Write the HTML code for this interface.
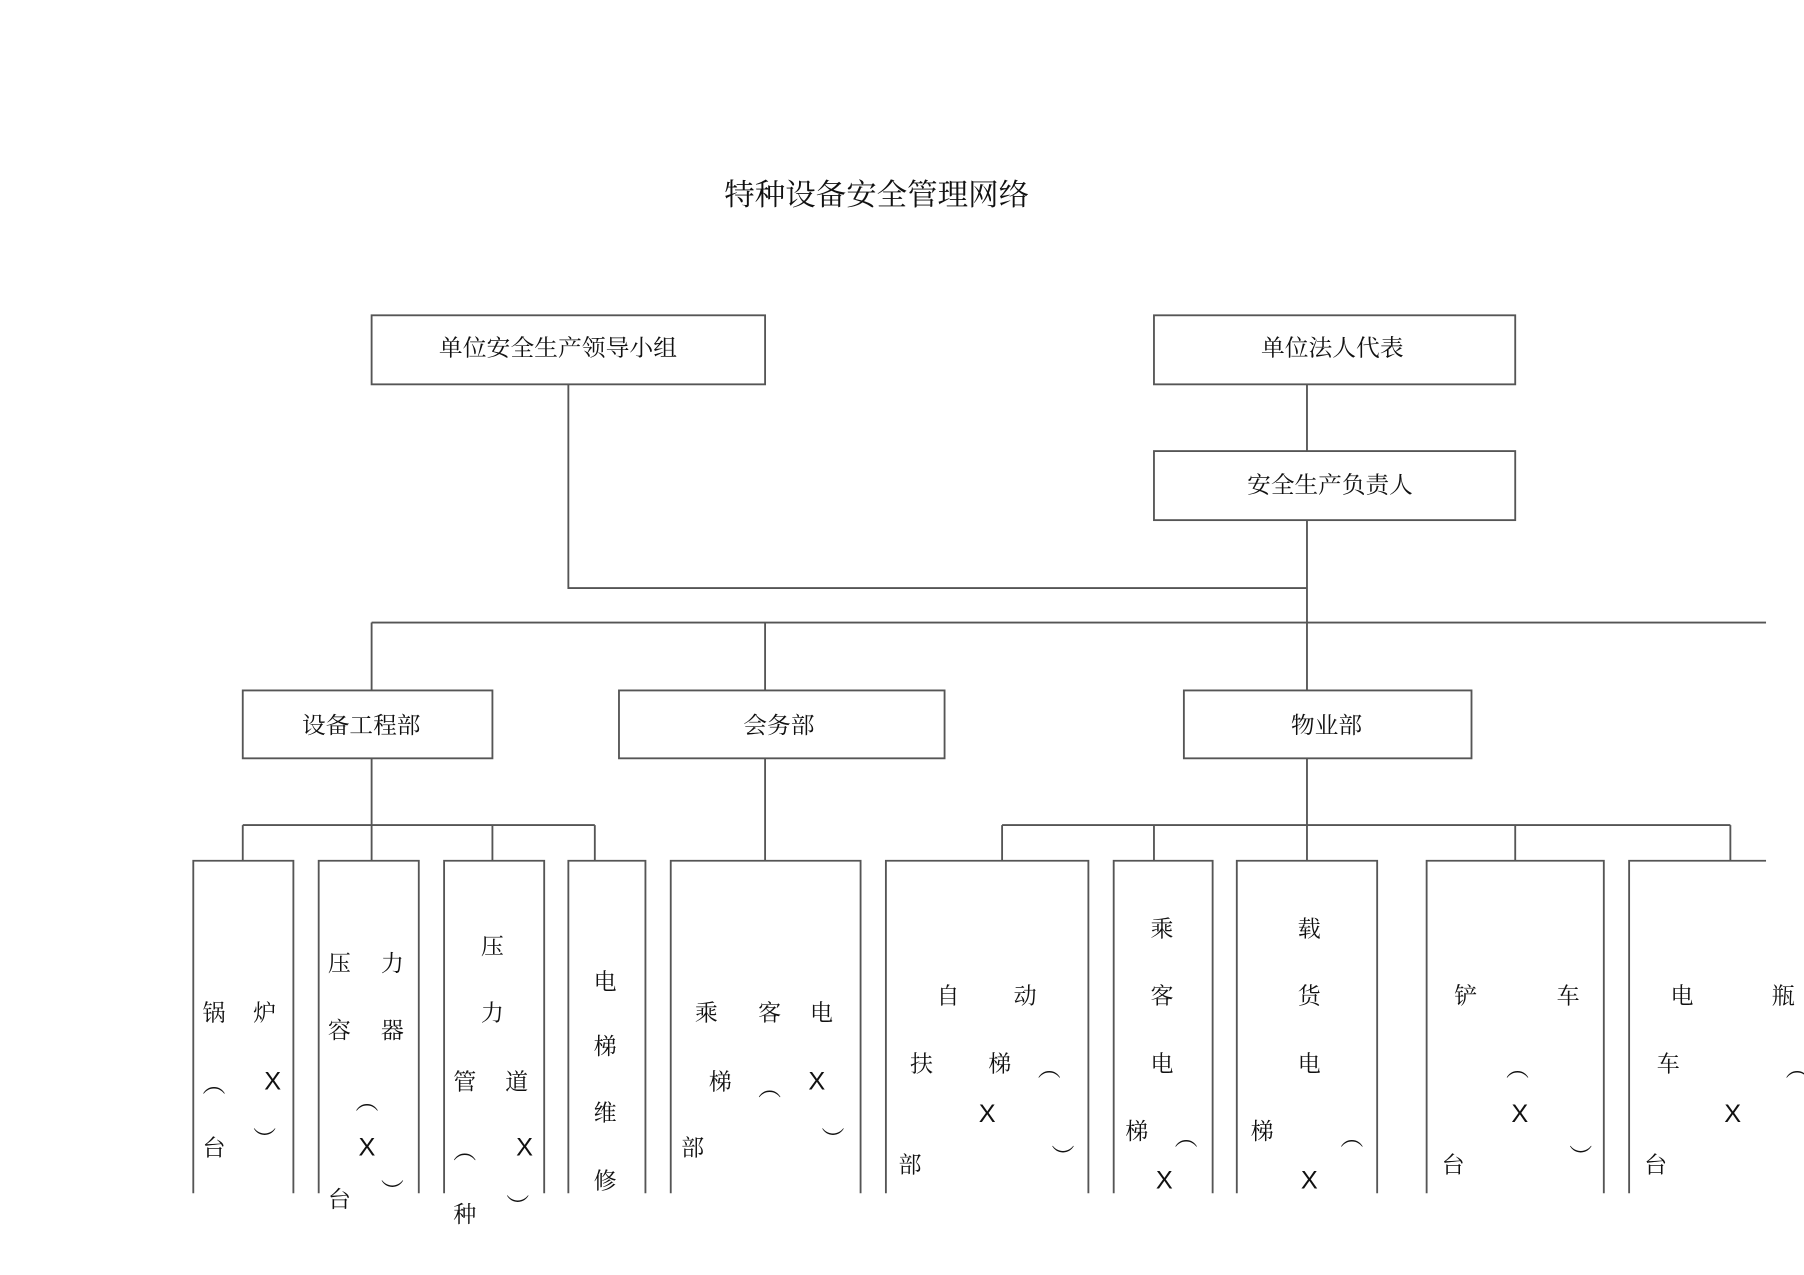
<!DOCTYPE html>
<html><head><meta charset="utf-8"><style>
html,body{margin:0;padding:0;background:#fff;}
svg{display:block;}
text{font-family:"Liberation Serif","Noto Serif CJK SC",serif;fill:#111;}
.c{font-size:20px;text-anchor:middle;dominant-baseline:central;}
.x{font-size:22px;text-anchor:middle;dominant-baseline:central;font-family:"Liberation Sans",sans-serif;}
</style></head><body>
<svg width="1804" height="1275" viewBox="0 0 1568 1108" preserveAspectRatio="none" xmlns="http://www.w3.org/2000/svg">
<g fill="none" stroke="#555" stroke-width="1.6">
<rect x="323" y="274" width="342" height="60"/>
<rect x="1003" y="274" width="314" height="60"/>
<rect x="1003" y="392" width="314" height="60"/>
<path d="M1136 334V392M1136 452V600M494 334V511H1136M323 541H1535M323 541V600M665 541V600"/>
<rect x="211" y="600" width="217" height="59"/>
<rect x="538" y="600" width="283" height="59"/>
<rect x="1029" y="600" width="250" height="59"/>
<path d="M323 659V748M211 717H517M211 717V748M428 717V748M517 717V748"/>
<path d="M665 659V748"/>
<path d="M1136 659V748M871 717H1504M871 717V748M1003 717V748M1317 717V748M1504 717V748"/>
<path d="M168 1037V748H255V1037"/>
<path d="M277 1037V748H364V1037"/>
<path d="M386 1037V748H473V1037"/>
<path d="M494 1037V748H561V1037"/>
<path d="M583 1037V748H748V1037"/>
<path d="M770 1037V748H946V1037"/>
<path d="M968 1037V748H1054V1037"/>
<path d="M1075 1037V748H1197V1037"/>
<path d="M1240 1037V748H1394V1037"/>
<path d="M1416 1037V748H1535"/>
</g>
<text x="762" y="170" style="font-size:26px;text-anchor:middle;dominant-baseline:central" textLength="265" lengthAdjust="spacingAndGlyphs">特种设备安全管理网络</text>
<text x="485" y="302" class="c" textLength="207" lengthAdjust="spacingAndGlyphs">单位安全生产领导小组</text>
<text x="1158" y="302" class="c" textLength="124" lengthAdjust="spacingAndGlyphs">单位法人代表</text>
<text x="1156" y="421" class="c" textLength="144" lengthAdjust="spacingAndGlyphs">安全生产负责人</text>
<text x="314" y="630" class="c" textLength="103" lengthAdjust="spacingAndGlyphs">设备工程部</text>
<text x="677" y="630" class="c" textLength="62" lengthAdjust="spacingAndGlyphs">会务部</text>
<text x="1153" y="630" class="c" textLength="62" lengthAdjust="spacingAndGlyphs">物业部</text>

<g class="c">
<text class="c" x="186" y="880">锅</text><text class="c" x="230" y="880">炉</text>
<text class="c" x="186" y="942">︵</text><text class="x" x="237" y="940">X</text>
<text class="c" x="186" y="997">台</text><text class="c" x="230" y="990">︶</text>

<text class="c" x="295" y="837">压</text><text class="c" x="341" y="837">力</text>
<text class="c" x="295" y="895">容</text><text class="c" x="341" y="895">器</text>
<text class="c" x="319" y="957">︵</text><text class="x" x="319" y="997">X</text>
<text class="c" x="295" y="1042">台</text><text class="c" x="341" y="1035">︶</text>

<text class="c" x="428" y="822">压</text>
<text class="c" x="428" y="880">力</text>
<text class="c" x="404" y="940">管</text><text class="c" x="449" y="940">道</text>
<text class="c" x="404" y="1000">︵</text><text class="x" x="456" y="997">X</text>
<text class="c" x="404" y="1055">种</text><text class="c" x="450" y="1048">︶</text>

<text class="c" x="526" y="853">电</text>
<text class="c" x="526" y="909">梯</text>
<text class="c" x="526" y="967">维</text>
<text class="c" x="526" y="1026">修</text>

<text class="c" x="614" y="880">乘</text><text class="c" x="669" y="880">客</text><text class="c" x="714" y="880">电</text>
<text class="c" x="626" y="940">梯</text><text class="c" x="669" y="945">︵</text><text class="x" x="710" y="940">X</text>
<text class="c" x="602" y="997">部</text><text class="c" x="724" y="990">︶</text>

<text class="c" x="824" y="865">自</text><text class="c" x="891" y="865">动</text>
<text class="c" x="801" y="924">扶</text><text class="c" x="869" y="924">梯</text><text class="c" x="912" y="928">︵</text>
<text class="x" x="858" y="968">X</text>
<text class="c" x="791" y="1012">部</text><text class="c" x="924" y="1005">︶</text>

<text class="c" x="1010" y="807">乘</text>
<text class="c" x="1010" y="865">客</text>
<text class="c" x="1010" y="924">电</text>
<text class="c" x="988" y="983">梯</text><text class="c" x="1031" y="988">︵</text>
<text class="x" x="1012" y="1026">X</text>

<text class="c" x="1138" y="807">载</text>
<text class="c" x="1138" y="865">货</text>
<text class="c" x="1138" y="924">电</text>
<text class="c" x="1097" y="983">梯</text><text class="c" x="1175" y="988">︵</text>
<text class="x" x="1138" y="1026">X</text>

<text class="c" x="1274" y="865">铲</text><text class="c" x="1363" y="865">车</text>
<text class="c" x="1319" y="928">︵</text>
<text class="x" x="1321" y="968">X</text>
<text class="c" x="1263" y="1012">台</text><text class="c" x="1374" y="1005">︶</text>

<text class="c" x="1462" y="865">电</text><text class="c" x="1550" y="865">瓶</text>
<text class="c" x="1450" y="924">车</text><text class="c" x="1562" y="928">︵</text>
<text class="x" x="1506" y="968">X</text>
<text class="c" x="1439" y="1012">台</text>
</g>
</svg>
</body></html>
